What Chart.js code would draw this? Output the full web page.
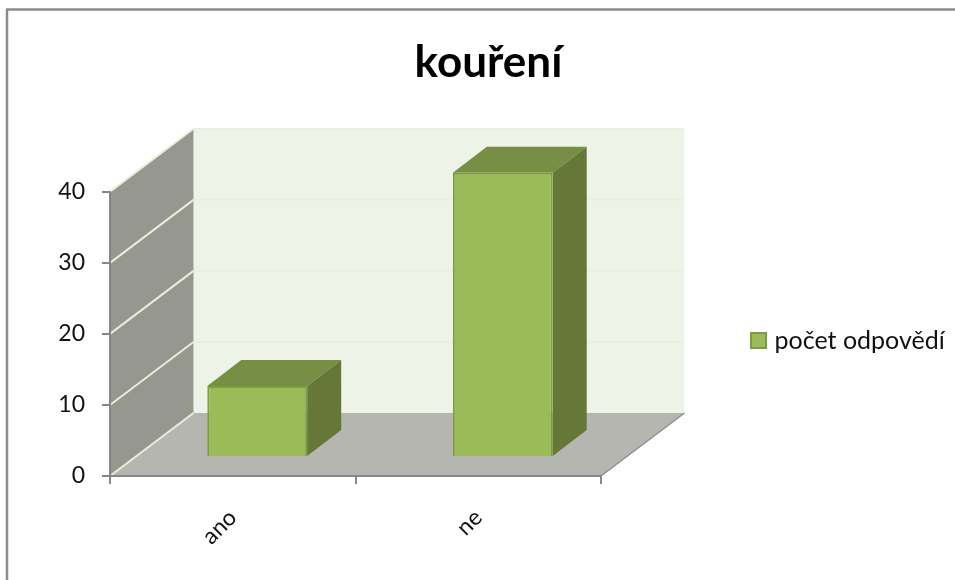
<!DOCTYPE html>
<html>
<head>
<meta charset="utf-8">
<title>kouření</title>
<script src="https://cdn.jsdelivr.net/npm/chart.js@4"></script>
<style>
  html, body { margin: 0; padding: 0; background: #fff; overflow: hidden; }
  canvas { display: block; }
</style>
</head>
<body>
<canvas id="smokingChart" width="955" height="580"></canvas>
<script>
const categories = ['ano', 'ne'];
const answerCounts = [10, 40];
const yTickValues = [0, 10, 20, 30, 40];

const seriesName = 'počet odpovědí';
const chartTitle = 'kouření';

// pseudo 3D: how far the back wall sits from the axes, and how deep a bar is
const WALL_DX = 83.5;
const WALL_DY = -63;
const BAR_SHIFT_X = 24.5;
const BAR_SHIFT_Y = -19;
const BAR_DX = 34;
const BAR_DY = -26;

const AXIS_COLOR = '#868686';
const BAR_FILL = '#9bbb59';
const BAR_EDGE = '#7c9c40';

function polygon(ctx, points, fill) {
  ctx.beginPath();
  points.forEach((p, i) => (i ? ctx.lineTo(p[0], p[1]) : ctx.moveTo(p[0], p[1])));
  ctx.closePath();
  ctx.fillStyle = fill;
  ctx.fill();
}

function segment(ctx, x1, y1, x2, y2, color, width) {
  ctx.beginPath();
  ctx.moveTo(x1, y1);
  ctx.lineTo(x2, y2);
  ctx.strokeStyle = color;
  ctx.lineWidth = width;
  ctx.stroke();
}

// legend swatch as an image, so the text can sit closer than the usual box gap
function legendSwatch() {
  const swatch = document.createElement('canvas');
  swatch.width = 17;
  swatch.height = 17;
  const c = swatch.getContext('2d');
  c.fillStyle = BAR_EDGE;
  c.fillRect(0, 0, 17, 17);
  c.fillStyle = BAR_FILL;
  c.fillRect(2, 2, 13, 13);
  return swatch;
}

const placeBlocks = {
  id: 'placeBlocks',
  afterLayout(chart) {
    // title is centred over the plot plus legend, legend sits right of the walls
    chart.titleBlock.left = 22;
    chart.titleBlock.right = 955;
    const legend = chart.legend;
    const w = legend.width;
    const h = legend.height;
    legend.left = 745;
    legend.right = legend.left + w;
    legend.top = 318;
    legend.bottom = legend.top + h;
  },
};

const walls = {
  id: 'walls',
  beforeDraw(chart) {
    const { ctx, scales: { x, y } } = chart;
    const yBottom = y.getPixelForValue(0);
    const yTop = y.getPixelForValue(40);

    ctx.save();
    ctx.fillStyle = '#fff';
    ctx.fillRect(0, 0, chart.width, chart.height);

    // outer frame, only top and left are visible
    segment(ctx, 7, 580, 7, 9.5, '#8c8c8c', 2.5);
    segment(ctx, 6, 9.5, 955, 9.5, '#8c8c8c', 2.5);

    polygon(ctx, [
      [x.left + WALL_DX, yTop + WALL_DY],
      [x.right + WALL_DX, yTop + WALL_DY],
      [x.right + WALL_DX, yBottom + WALL_DY],
      [x.left + WALL_DX, yBottom + WALL_DY],
    ], '#eef3e8');

    polygon(ctx, [
      [x.left, yTop],
      [x.left + WALL_DX, yTop + WALL_DY],
      [x.left + WALL_DX, yBottom + WALL_DY],
      [x.left, yBottom],
    ], '#96978f');

    polygon(ctx, [
      [x.left, yBottom],
      [x.right, yBottom],
      [x.right + WALL_DX, yBottom + WALL_DY],
      [x.left + WALL_DX, yBottom + WALL_DY],
    ], '#b5b6b0');

    yTickValues.forEach((v) => {
      const py = y.getPixelForValue(v);
      if (v > 0) {
        segment(ctx, x.left + WALL_DX, py + WALL_DY, x.right + WALL_DX, py + WALL_DY, '#e9efdc', 1.5);
      }
      segment(ctx, x.left, py, x.left + WALL_DX, py + WALL_DY, '#e8eddc', 2);
    });

    segment(ctx, x.right, yBottom, x.right + WALL_DX, yBottom + WALL_DY, '#8f8f8f', 1.5);
    ctx.restore();
  },
  beforeDatasetsDraw(chart) {
    const { ctx } = chart;
    const bars = chart.getDatasetMeta(0).data;
    ctx.save();
    ctx.translate(BAR_SHIFT_X, BAR_SHIFT_Y);
    bars.forEach((bar) => {
      const left = bar.x - bar.width / 2;
      const right = bar.x + bar.width / 2;
      polygon(ctx, [
        [left, bar.y],
        [left + BAR_DX, bar.y + BAR_DY],
        [right + BAR_DX, bar.y + BAR_DY],
        [right, bar.y],
      ], '#778f44');
      polygon(ctx, [
        [right, bar.y],
        [right + BAR_DX, bar.y + BAR_DY],
        [right + BAR_DX, bar.base + BAR_DY],
        [right, bar.base],
      ], '#657838');
    });
  },
  afterDatasetsDraw(chart) {
    chart.ctx.restore();
  },
};

function buildChart() {
  const ctx = document.getElementById('smokingChart');
  return new Chart(ctx, {
    type: 'bar',
    data: {
      labels: categories,
      datasets: [{
        label: seriesName,
        data: answerCounts,
        backgroundColor: BAR_FILL,
        borderColor: BAR_EDGE,
        borderWidth: 2,
        barPercentage: 1,
        categoryPercentage: 0.407,
      }],
    },
    options: {
      responsive: false,
      animation: false,
      layout: { padding: { left: 0, top: 0, right: 354, bottom: 0 } },
      plugins: {
        title: {
          display: true,
          text: chartTitle,
          color: '#000',
          font: { family: 'Lato', size: 44, weight: 'bold', lineHeight: 1.2 },
          padding: { top: 36, bottom: 103 },
        },
        legend: {
          position: 'chartArea',
          align: 'start',
          labels: {
            usePointStyle: true,
            pointStyle: legendSwatch(),
            boxWidth: 7,
            boxHeight: 16,
            padding: 10,
            color: '#111',
            font: { family: 'Lato', size: 25 },
          },
        },
        tooltip: { enabled: false },
      },
      scales: {
        x: {
          grid: {
            drawOnChartArea: false,
            color: AXIS_COLOR,
            lineWidth: 2,
            tickLength: 8,
          },
          border: { color: AXIS_COLOR, width: 2 },
          ticks: {
            color: '#111',
            font: { family: 'Lato', size: 23 },
            minRotation: 45,
            maxRotation: 45,
            padding: 20,
          },
          afterFit(scale) { scale.height = 104; },
        },
        y: {
          min: 0,
          max: 40,
          afterBuildTicks(scale) { scale.ticks = yTickValues.map((v) => ({ value: v })); },
          grid: {
            drawOnChartArea: false,
            color: AXIS_COLOR,
            lineWidth: 2,
            tickLength: 8,
          },
          border: { color: AXIS_COLOR, width: 2 },
          ticks: {
            color: '#111',
            font: { family: 'Lato', size: 23 },
            padding: 17,
          },
          afterFit(scale) { scale.width = 110; },
        },
      },
    },
    plugins: [placeBlocks, walls],
  });
}

document.addEventListener('DOMContentLoaded', buildChart);
</script>
</body>
</html>
